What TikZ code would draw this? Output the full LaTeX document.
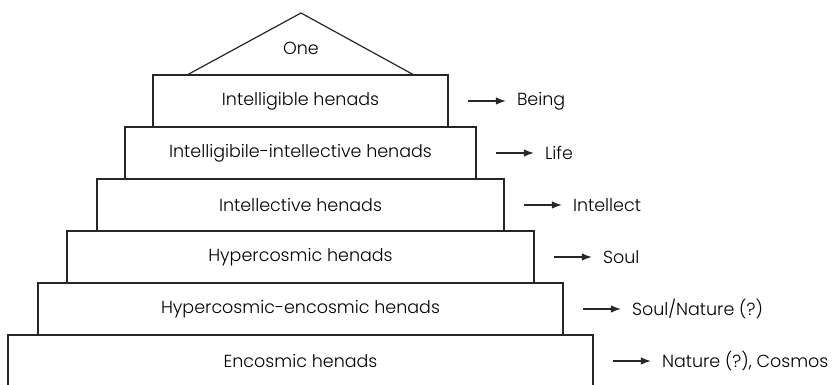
\documentclass[tikz,border=0pt]{standalone}
\usepackage{fontspec}
\setmainfont{Poppins}[UprightFont={* Light}]
\usetikzlibrary{arrows.meta}
\newcommand{\diafont}{\fontsize{17.5}{20}\selectfont}
\tikzset{
  tier/.style={draw=black!85, line width=1.6pt, minimum height=52pt, inner sep=0pt, font=\diafont},
  arr/.style={draw=black!85, line width=1.1pt, -{Latex[length=10pt,width=7.5pt]}, shorten >=11pt},
  lbl/.style={anchor=west, inner sep=0pt, font=\diafont},
}
\begin{document}
\begin{tikzpicture}[x=1pt,y=-1pt]
\useasboundingbox (0,0) rectangle (833,385);
% roof
\coordinate (apex) at (301,13);
\coordinate (rl) at (187,75);
\coordinate (rr) at (414,75);
\draw[black!85, line width=1.2pt] (rl) -- (apex) -- (rr);
\node[font=\diafont] (one) at (301,48) {One};
% tiers
\node[tier, minimum width=295pt] (b1) at (300.5,101) {Intelligible henads};
\node[tier, minimum width=351pt] (b2) at (300.5,153) {Intelligibile-intellective henads};
\node[tier, minimum width=407pt] (b3) at (300.5,205) {Intellective henads};
\node[tier, minimum width=467pt] (b4) at (300.5,257) {Hypercosmic henads};
\node[tier, minimum width=525pt] (b5) at (300.5,309) {Hypercosmic-encosmic henads};
\node[tier, minimum width=585pt] (b6) at (300.5,361) {Encosmic henads};
% arrows and labels
\foreach \i/\t in {1/{Being},2/{Life},3/{Intellect},4/{Soul},5/{Soul/Nature (?)},6/{Nature (?), Cosmos}}{
  \coordinate (a\i) at ([xshift=19pt]b\i.east);
  \node[lbl] (t\i) at ([xshift=68pt]b\i.east) {\t};
  \draw[arr] (a\i) -- (t\i.west);
}
\end{tikzpicture}
\end{document}
